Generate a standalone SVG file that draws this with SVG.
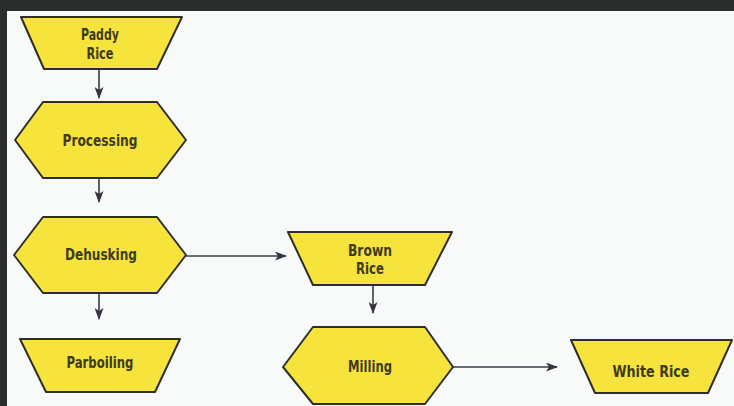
<svg xmlns="http://www.w3.org/2000/svg" width="734" height="406" viewBox="0 0 734 406">
  <defs>
    <marker id="arr" markerWidth="12" markerHeight="9" refX="11" refY="4.5" orient="auto" markerUnits="userSpaceOnUse">
      <path d="M0,0 L12,4.5 L0,9 L3,4.5 Z" fill="#353540"/>
    </marker>
    <style>
      .shape { fill: #f6e43c; stroke: #2e2e2a; stroke-width: 2; stroke-linejoin: round; }
      .lbl { font-family: "DejaVu Sans Condensed", "Liberation Sans Narrow", "Liberation Sans", sans-serif; font-weight: bold; font-size: 15px; fill: #3e3b1c; text-anchor: middle; }
      .conn { stroke: #3a3a48; stroke-width: 1.6; fill: none; }
    </style>
  </defs>
  <rect x="0" y="0" width="734" height="406" fill="#f8f9f9"/>
  <rect x="0" y="0" width="734" height="11" fill="#2b2d2c"/>
  <rect x="0" y="0" width="7" height="406" fill="#2b2d2c"/>

  <g id="connectors">
    <line class="conn" x1="99" y1="69" x2="99" y2="98" marker-end="url(#arr)"/>
    <line class="conn" x1="99" y1="178" x2="99" y2="202" marker-end="url(#arr)"/>
    <line class="conn" x1="99" y1="293" x2="99" y2="319" marker-end="url(#arr)"/>
    <line class="conn" x1="186" y1="256" x2="286" y2="256" marker-end="url(#arr)"/>
    <line class="conn" x1="373" y1="285" x2="373" y2="313" marker-end="url(#arr)"/>
    <line class="conn" x1="453" y1="367" x2="557" y2="367" marker-end="url(#arr)"/>
  </g>

  <g id="paddy-rice">
    <polygon class="shape" points="21,17 182,17 157,69 44,69"/>
    <text class="lbl" x="100" y="40" textLength="38" lengthAdjust="spacingAndGlyphs">Paddy</text>
    <text class="lbl" x="100" y="59" textLength="27" lengthAdjust="spacingAndGlyphs">Rice</text>
  </g>
  <g id="processing">
    <polygon class="shape" points="43,102 157,102 186,140 157,178 43,178 15,140"/>
    <text class="lbl" x="100" y="146" textLength="75" lengthAdjust="spacingAndGlyphs">Processing</text>
  </g>
  <g id="dehusking">
    <polygon class="shape" points="43,217 157,217 186,255 157,293 43,293 14,255"/>
    <text class="lbl" x="101" y="260" textLength="72" lengthAdjust="spacingAndGlyphs">Dehusking</text>
  </g>
  <g id="parboiling">
    <polygon class="shape" points="20,339 180,339 155,392 46,392"/>
    <text class="lbl" x="100" y="368" textLength="67" lengthAdjust="spacingAndGlyphs">Parboiling</text>
  </g>
  <g id="brown-rice">
    <polygon class="shape" points="288,232 452,232 425,285 313,285"/>
    <text class="lbl" x="370" y="256" textLength="44" lengthAdjust="spacingAndGlyphs">Brown</text>
    <text class="lbl" x="370" y="274" textLength="28" lengthAdjust="spacingAndGlyphs">Rice</text>
  </g>
  <g id="milling">
    <polygon class="shape" points="313,327 425,327 453,367 425,404 313,404 283,367"/>
    <text class="lbl" x="370" y="372" textLength="44" lengthAdjust="spacingAndGlyphs">Milling</text>
  </g>
  <g id="white-rice">
    <polygon class="shape" points="571,340 732,340 708,393 595,393"/>
    <text class="lbl" x="651" y="377" textLength="77" lengthAdjust="spacingAndGlyphs">White Rice</text>
  </g>
</svg>
